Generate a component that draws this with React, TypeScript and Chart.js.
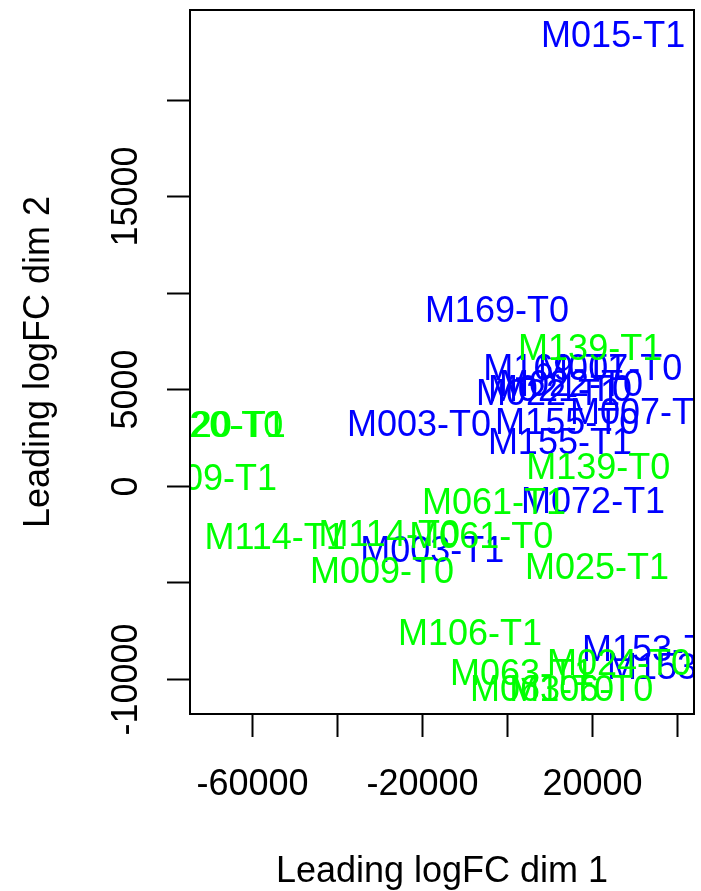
import React, { useEffect, useRef } from "react";
import { Chart, registerables } from "chart.js";

Chart.register(...registerables);

// Sample labels, MDS coordinates (leading logFC dim 1 / dim 2), and group colours
const blueLabels = [
  "M015-T1", "M169-T0", "M169-T1", "M007-T0", "M022-T0", "M022-T1", "M021-T0",
  "M003-T0", "M155-T0", "M007-T1", "M155-T1", "M072-T1", "M003-T1", "M153-T1", "M153-T0",
];
const blueX = [24900, -2400, 11300, 24200, 15000, 9600, 12400, -20700, 14100, 31700, 12400, 20200, -17600, 34500, 40400];
const blueY = [23400, 9160, 6150, 6150, 5330, 4860, 5070, 3250, 3360, 3880, 2320, -740, -3280, -8400, -9330];

const greenLabels = [
  "M139-T1", "M139-T0", "M120-T0", "M120-T1", "M009-T1", "M061-T1", "M114-T1", "M114-T0",
  "M061-T0", "M009-T0", "M025-T1", "M106-T1", "M024-T0", "M063-T1", "M063-T0", "M106-T0",
];
const greenX = [19500, 21400, -69500, -68900, -71000, -3100, -54500, -27700, -6100, -29400, 21100, -8700, 26300, 3500, 8200, 17400];
const greenY = [7190, 1030, 3200, 3200, 460, -790, -2630, -2480, -2580, -4390, -4190, -7610, -9130, -9650, -10480, -10480];

const xTicks = [-60000, -40000, -20000, 0, 20000, 40000];
const xTickLabels = ["-60000", "", "-20000", "", "20000", ""];
const yTicks = [-10000, -5000, 0, 5000, 10000, 15000, 20000];
const yTickLabels = ["-10000", "", "0", "5000", "", "15000", ""];

const xTitle = "Leading logFC dim 1";
const yTitle = "Leading logFC dim 2";

const FONT = '36px "Liberation Sans", Arial, sans-serif';

const mdsPlugin = {
  id: "mdsPlugin",
  afterDatasetsDraw(chart: any) {
    const ctx = chart.ctx;
    const area = chart.chartArea;
    const xs = chart.scales.x;
    const ys = chart.scales.y;
    ctx.save();
    // sample labels, clipped to the plot region
    ctx.beginPath();
    ctx.rect(area.left, area.top, area.right - area.left, area.bottom - area.top);
    ctx.clip();
    ctx.font = FONT;
    ctx.textAlign = "center";
    ctx.textBaseline = "alphabetic";
    chart.data.datasets.forEach((ds: any) => {
      ctx.fillStyle = ds.textColor;
      ds.data.forEach((p: any) => {
        const px = xs.getPixelForValue(p.x);
        const py = ys.getPixelForValue(p.y);
        ctx.fillText(p.label, px, py + 12.9);
      });
    });
    ctx.restore();

    ctx.save();
    ctx.strokeStyle = "#000";
    ctx.lineWidth = 2;
    ctx.strokeRect(area.left, area.top, area.right - area.left, area.bottom - area.top);
    ctx.fillStyle = "#000";
    ctx.font = FONT;
    // x ticks
    ctx.textAlign = "center";
    ctx.textBaseline = "alphabetic";
    xTicks.forEach((v, i) => {
      const px = Math.round(xs.getPixelForValue(v)) + 0.5;
      ctx.beginPath();
      ctx.moveTo(px, area.bottom);
      ctx.lineTo(px, area.bottom + 23);
      ctx.stroke();
      if (xTickLabels[i]) ctx.fillText(xTickLabels[i], px, area.bottom + 81);
    });
    // y ticks
    yTicks.forEach((v, i) => {
      const py = Math.round(ys.getPixelForValue(v)) + 0.5;
      ctx.beginPath();
      ctx.moveTo(area.left, py);
      ctx.lineTo(area.left - 23, py);
      ctx.stroke();
      if (yTickLabels[i]) {
        ctx.save();
        ctx.translate(area.left - 53, py);
        ctx.rotate(-Math.PI / 2);
        ctx.fillText(yTickLabels[i], 0, 0);
        ctx.restore();
      }
    });
    // axis titles
    ctx.fillText(xTitle, (area.left + area.right) / 2, 882);
    ctx.save();
    ctx.translate(49, (area.top + area.bottom) / 2);
    ctx.rotate(-Math.PI / 2);
    ctx.fillText(yTitle, 0, 0);
    ctx.restore();
    ctx.restore();
  },
};

export default function App() {
  const ref = useRef<HTMLCanvasElement>(null);
  useEffect(() => {
    if (!ref.current) return;
    const mk = (labels: string[], xs: number[], ys: number[]) =>
      labels.map((l, i) => ({ x: xs[i], y: ys[i], label: l }));
    const chart = new Chart(ref.current, {
      type: "scatter",
      data: {
        datasets: [
          { data: mk(blueLabels, blueX, blueY), pointRadius: 0, textColor: "#0000FF" } as any,
          { data: mk(greenLabels, greenX, greenY), pointRadius: 0, textColor: "#00FF00" } as any,
        ],
      },
      options: {
        animation: false,
        responsive: false,
        devicePixelRatio: 1,
        layout: { padding: { left: 0, top: 10, right: 7, bottom: 0 } },
        plugins: { legend: { display: false }, tooltip: { enabled: false } },
        scales: {
          x: {
            type: "linear",
            min: -74500,
            max: 43900,
            ticks: { display: false },
            grid: { display: false },
            border: { display: false },
            afterFit: (s: any) => { s.height = 177; },
          },
          y: {
            type: "linear",
            min: -11830,
            max: 24650,
            ticks: { display: false },
            grid: { display: false },
            border: { display: false },
            afterFit: (s: any) => { s.width = 190; },
          },
        },
      },
      plugins: [mdsPlugin],
    });
    return () => chart.destroy();
  }, []);
  return (
    <div style={{ position: "absolute", left: 0, top: 0, width: 701, height: 891, background: "#fff" }}>
      <canvas ref={ref} width={701} height={891} />
    </div>
  );
}
